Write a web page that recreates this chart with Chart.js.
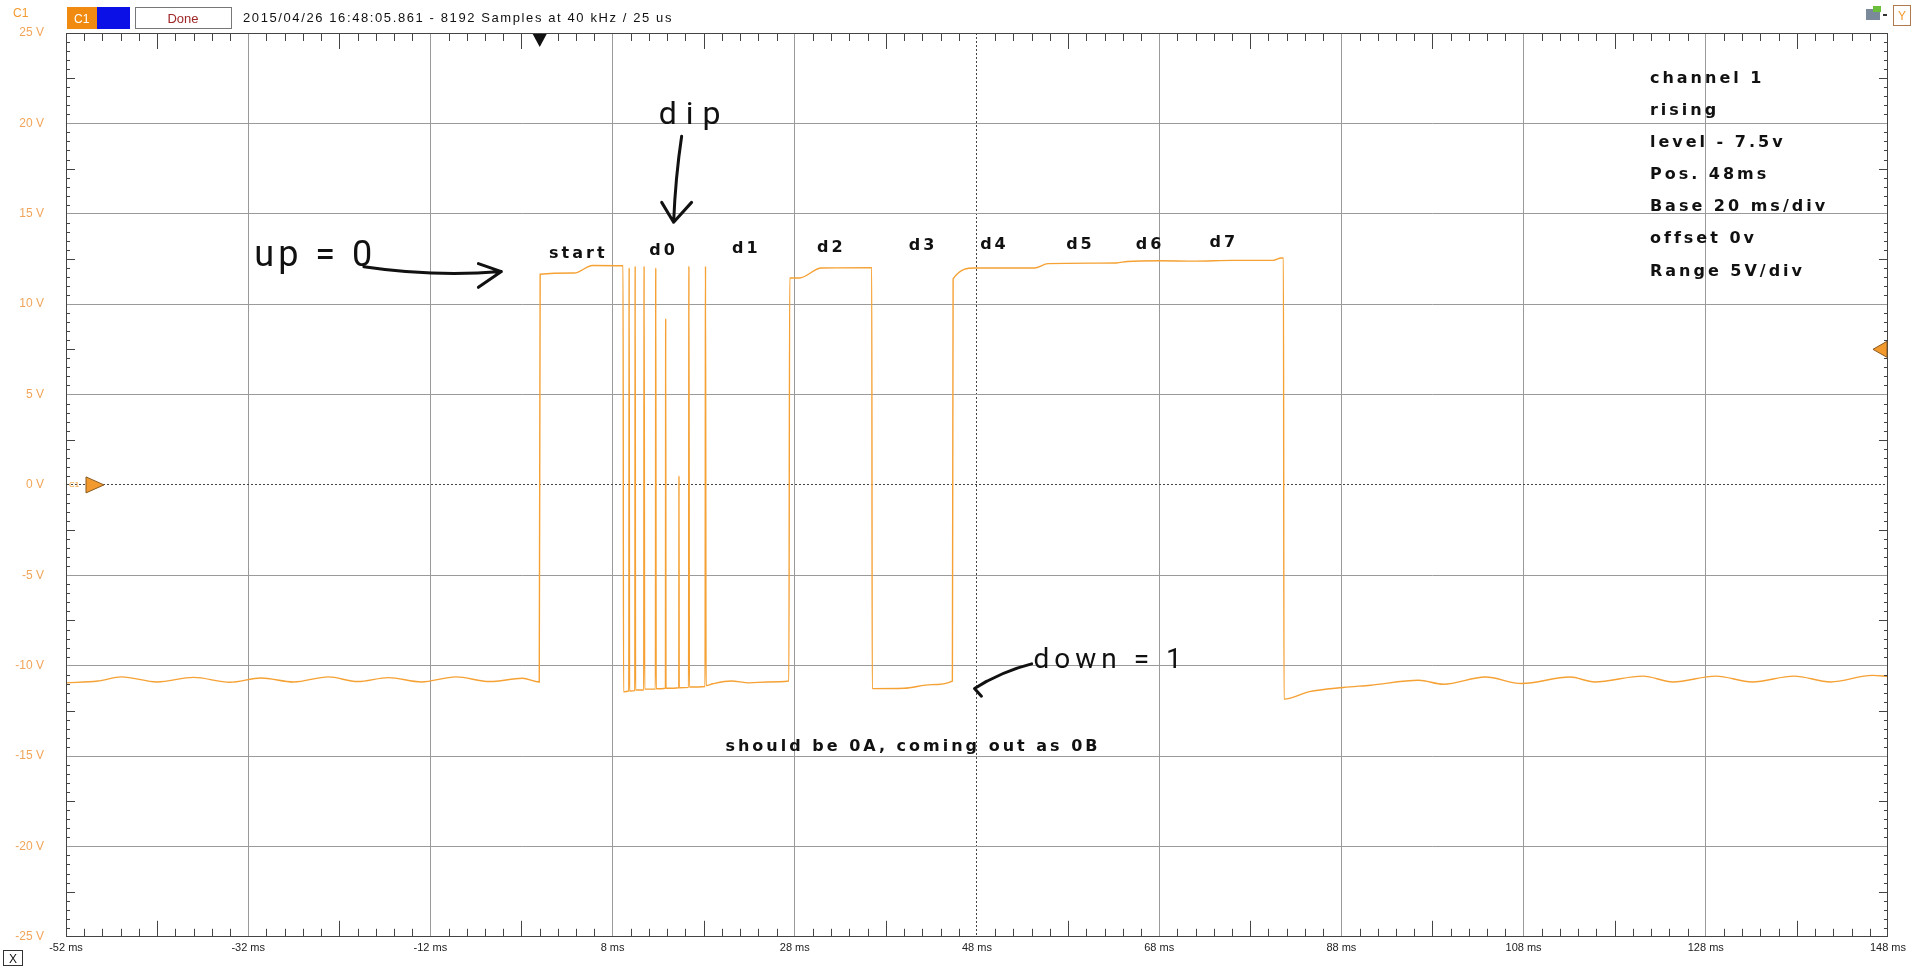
<!DOCTYPE html>
<html>
<head>
<meta charset="utf-8">
<title>C1 capture</title>
<script src="https://cdn.jsdelivr.net/npm/chart.js@4.4.1/dist/chart.umd.min.js"></script>
<style>
  html, body { margin: 0; padding: 0; background: #fff; }
  #wrap { position: relative; width: 1911px; height: 966px; }
</style>
</head>
<body>
<div id="wrap"><canvas id="scope"></canvas></div>
<script>
// channel 1, time in ms vs level in volts
let timeMs = [
  -52, -48.5, -45.9, -42, -38, -34, -30.6, -27, -23.2, -20, -16.6, -13, -9.2, -5.5, -1.9, -0.05,
  0.05, 3.8, 5.8, 9.15,
  9.2, 9.78, 9.82, 9.86, 10.44, 10.48, 10.52, 11.42, 11.46, 11.52, 12.7, 12.74, 12.78,
  13.8, 13.83, 13.86, 15.27, 15.29, 15.31, 16.34, 16.38, 16.43, 18.15, 18.2, 18.26,
  19, 21, 23, 25, 27.35,
  27.44, 28.5, 30.9, 36.45,
  36.5, 40, 43, 45.3,
  45.38, 47.8, 54.3, 55.8, 63.3, 64.5, 68, 72, 76, 80.5, 81.4, 81.64,
  81.7, 84.5, 88.2, 91.2, 96.5, 99.2, 103.8, 107.8, 113.1, 115.8, 121.1, 124.4, 129.1, 133.1, 137.7, 141.7, 146.3, 148
];
let volts = [
  -10.95, -10.85, -10.62, -10.9, -10.65, -10.92, -10.68, -10.9, -10.62, -10.88, -10.66, -10.9, -10.62, -10.88, -10.7, -10.9,
  11.65, 11.72, 12.14, 12.12,
  -11.45, -11.4, 12.0, -11.4, -11.38, 12.1, -11.35, -11.35, 12.1, -11.3, -11.3, 12.0, -11.28,
  -11.25, 9.2, -11.25, -11.22, 0.5, -11.22, -11.2, 12.1, -11.18, -11.15, 12.1, -11.1,
  -11.0, -10.85, -10.95, -10.9, -10.85,
  11.45, 11.45, 12.0, 12.02,
  -11.27, -11.25, -11.05, -10.85,
  11.4, 12.0, 12.0, 12.24, 12.28, 12.36, 12.4, 12.38, 12.42, 12.42, 12.55, 12.55,
  -11.85, -11.44, -11.21, -11.08, -10.81, -11.03, -10.63, -10.99, -10.63, -10.9, -10.58, -10.9, -10.58, -10.9, -10.58, -10.9, -10.54, -10.6
];

let xTickValues = [-52, -32, -12, 8, 28, 48, 68, 88, 108, 128, 148];
let xTickLabels = ['-52 ms', '-32 ms', '-12 ms', '8 ms', '28 ms', '48 ms', '68 ms', '88 ms', '108 ms', '128 ms', '148 ms'];
let yTickValues = [-25, -20, -15, -10, -5, 0, 5, 10, 15, 20, 25];
let yTickLabels = ['-25 V', '-20 V', '-15 V', '-10 V', '-5 V', '0 V', '5 V', '10 V', '15 V', '20 V', '25 V'];

let bitNames = ['start', 'd0', 'd1', 'd2', 'd3', 'd4', 'd5', 'd6', 'd7'];
let settingsText = ['channel 1', 'rising', 'level - 7.5v', 'Pos. 48ms', 'Base 20 ms/div', 'offset 0v', 'Range 5V/div'];
let statusText = '2015/04/26 16:48:05.861 - 8192 Samples at 40 kHz / 25 us';
let noteText = 'should be 0A, coming out as 0B';

let triggerMs = 0;
let triggerLevel = 7.5;
let cursorMs = 48;

// where the notes sit, in ms / volts
let bitPosMs = [1.03, 12.02, 21.12, 30.45, 40.51, 48.35, 57.79, 65.44, 73.53];
let bitPosV = [12.54, 12.73, 12.81, 12.9, 13.0, 13.03, 13.03, 13.03, 13.17];

const orange = '#f39a2e';
const labelFont = "bold 16px 'DejaVu Sans'";
const handFont = "Roboto";

function tri(ctx, pts, fill, stroke) {
  ctx.beginPath();
  ctx.moveTo(pts[0][0], pts[0][1]);
  ctx.lineTo(pts[1][0], pts[1][1]);
  ctx.lineTo(pts[2][0], pts[2][1]);
  ctx.closePath();
  ctx.fillStyle = fill;
  ctx.fill();
  if (stroke) { ctx.strokeStyle = stroke; ctx.lineWidth = 1; ctx.stroke(); }
}

const scopeDecor = {
  id: 'scopeDecor',
  afterDraw(chart) {
    const {ctx, chartArea: a, scales: {x, y}} = chart;
    const px = v => x.getPixelForValue(v);
    const py = v => y.getPixelForValue(v);
    ctx.save();

    // frame
    ctx.strokeStyle = '#444';
    ctx.lineWidth = 1;
    ctx.strokeRect(Math.round(a.left) + 0.5, Math.round(a.top) + 0.5, Math.round(a.width) - 1, Math.round(a.height) - 1);

    // small ticks on the frame
    ctx.beginPath();
    for (let t = -50; t < 148; t += 2) {
      if ((t + 52) % 20 === 0) continue;
      const len = (t + 52) % 20 === 10 ? 16 : 8;
      const xx = Math.round(px(t)) + 0.5;
      ctx.moveTo(xx, a.bottom); ctx.lineTo(xx, a.bottom - len);
      ctx.moveTo(xx, a.top); ctx.lineTo(xx, a.top + len);
    }
    for (let v = -24.5; v < 25; v += 0.5) {
      if (v % 5 === 0) continue;
      const len = Math.abs(v % 5) === 2.5 ? 9 : 4;
      const yy = Math.round(py(v)) + 0.5;
      ctx.moveTo(a.left, yy); ctx.lineTo(a.left + len, yy);
      ctx.moveTo(a.right, yy); ctx.lineTo(a.right - len, yy);
    }
    ctx.stroke();

    // channel / trigger markers
    const y0 = py(0);
    ctx.font = "8px 'Liberation Sans'";
    ctx.fillStyle = orange;
    ctx.textBaseline = 'middle';
    ctx.fillText('C1', a.left + 3, y0);
    tri(ctx, [[a.left + 20, y0 - 8], [a.left + 38, y0], [a.left + 20, y0 + 8]], orange, '#8a5a20');
    const yt = py(triggerLevel);
    tri(ctx, [[a.right - 1, yt - 8], [a.right - 15, yt], [a.right - 1, yt + 8]], orange, '#8a5a20');
    const xt = px(triggerMs);
    tri(ctx, [[xt - 7, a.top + 1], [xt + 7, a.top + 1], [xt, a.top + 14]], '#111');

    // header bar
    ctx.textBaseline = 'alphabetic';
    ctx.fillStyle = orange;
    ctx.font = "12px 'Liberation Sans'";
    ctx.fillText('C1', 13, 17);
    ctx.fillStyle = '#f08a10';
    ctx.fillRect(67, 7, 30, 22);
    ctx.fillStyle = '#0a10e6';
    ctx.fillRect(97, 7, 33, 22);
    ctx.fillStyle = '#fff';
    ctx.font = "12px 'Liberation Sans'";
    ctx.fillText('C1', 74, 23);
    ctx.fillStyle = '#fff';
    ctx.fillRect(135, 7, 96, 22);
    ctx.strokeStyle = '#777';
    ctx.strokeRect(135.5, 7.5, 96, 21);
    ctx.fillStyle = '#a02828';
    ctx.font = "13px 'Liberation Sans Narrow', 'Liberation Sans'";
    ctx.textAlign = 'center';
    ctx.fillText('Done', 183, 23);
    ctx.textAlign = 'left';
    ctx.fillStyle = '#111';
    ctx.font = "13px 'Liberation Sans Narrow', 'Liberation Sans'";
    ctx.letterSpacing = '1.6px';
    ctx.fillText(statusText, 243, 22);
    ctx.letterSpacing = '0px';

    // corner widgets
    ctx.fillStyle = '#7a8a9a';
    ctx.fillRect(1866, 9, 14, 11);
    ctx.fillStyle = '#6cbf3a';
    ctx.fillRect(1873, 6, 8, 6);
    ctx.fillStyle = '#333';
    ctx.fillRect(1883, 14, 4, 2);
    ctx.fillStyle = '#fff';
    ctx.fillRect(1893, 5, 17, 21);
    ctx.strokeStyle = '#b07a50';
    ctx.strokeRect(1893.5, 5.5, 17, 20);
    ctx.fillStyle = orange;
    ctx.font = "12px 'Liberation Sans'";
    ctx.fillText('Y', 1898, 20);
    ctx.strokeStyle = '#333';
    ctx.strokeRect(3.5, 950.5, 19, 15);
    ctx.fillStyle = '#111';
    ctx.fillText('X', 9, 963);

    // typed notes
    ctx.fillStyle = '#111';
    ctx.font = labelFont;
    ctx.letterSpacing = '3px';
    bitNames.forEach((n, i) => ctx.fillText(n, px(bitPosMs[i]), py(bitPosV[i])));
    settingsText.forEach((s, i) => ctx.fillText(s, px(121.87), py(22.24 - i * 1.777)));
    ctx.fillText(noteText, px(20.39), py(-14.72));

    // handwritten notes
    ctx.font = "36px " + handFont;
    ctx.letterSpacing = '4px';
    ctx.fillText('up = 0', px(-31.33), py(12.13));
    ctx.font = "32px " + handFont;
    ctx.letterSpacing = '9px';
    ctx.fillText('dip', px(13.06), py(19.95));
    ctx.font = "28px " + handFont;
    ctx.letterSpacing = '5px';
    ctx.fillText('down = 1', px(54.2), py(-10.13));
    ctx.letterSpacing = '0px';

    ctx.strokeStyle = '#111';
    ctx.lineWidth = 3;
    ctx.lineCap = 'round';
    ctx.lineJoin = 'round';
    ctx.beginPath();
    ctx.moveTo(px(-19.3), py(12.07));
    ctx.quadraticCurveTo(px(-11.76), py(11.5), px(-4.21), py(11.8));
    ctx.moveTo(px(-6.73), py(12.24));
    ctx.lineTo(px(-4.21), py(11.8));
    ctx.lineTo(px(-6.73), py(10.93));
    ctx.moveTo(px(15.58), py(19.29));
    ctx.quadraticCurveTo(px(14.9), py(17), px(14.7), py(14.53));
    ctx.moveTo(px(13.39), py(15.63));
    ctx.lineTo(px(14.7), py(14.53));
    ctx.lineTo(px(16.67), py(15.63));
    ctx.moveTo(px(54.0), py(-9.9));
    ctx.quadraticCurveTo(px(50.8), py(-10.3), px(47.73), py(-11.26));
    ctx.moveTo(px(49.04), py(-10.87));
    ctx.lineTo(px(47.73), py(-11.26));
    ctx.lineTo(px(48.49), py(-11.69));
    ctx.stroke();

    ctx.restore();
  }
};

let scope = new Chart(document.getElementById('scope'), {
  type: 'line',
  data: {
    datasets: [{
      data: timeMs.map((t, i) => ({x: t, y: volts[i]})),
      borderColor: '#f5a134',
      borderWidth: 1.4,
      pointRadius: 0,
      cubicInterpolationMode: 'monotone'
    }]
  },
  options: {
    responsive: true,
    maintainAspectRatio: false,
    animation: false,
    layout: { padding: { top: 33, right: 16, left: 0, bottom: 0 } },
    plugins: {
      legend: { display: false },
      tooltip: { enabled: false }
    },
    scales: {
      x: {
        type: 'linear',
        min: -52,
        max: 148,
        afterBuildTicks: s => { s.ticks = xTickValues.map(v => ({value: v})); },
        afterFit: s => { s.height = 19; },
        ticks: {
          autoSkip: false,
          maxRotation: 0,
          padding: 5,
          color: '#222',
          font: { family: "'Liberation Sans'", size: 11 },
          callback: (v, i) => xTickLabels[i]
        },
        grid: {
          drawTicks: false,
          color: c => (c.tick && c.tick.value === cursorMs) ? '#444' : '#9a9a9a'
        },
        border: {
          color: '#444',
          dash: c => (c.tick && c.tick.value === cursorMs) ? [2, 2] : []
        }
      },
      y: {
        type: 'linear',
        min: -25,
        max: 25,
        afterBuildTicks: s => { s.ticks = yTickValues.map(v => ({value: v})); },
        afterFit: s => { s.width = 66; },
        ticks: {
          padding: 22,
          color: '#f2a55a',
          font: { family: "'Liberation Sans'", size: 12 },
          callback: (v, i) => yTickLabels[i]
        },
        grid: {
          drawTicks: false,
          color: c => (c.tick && c.tick.value === 0) ? '#444' : '#9a9a9a'
        },
        border: {
          color: '#444',
          dash: c => (c.tick && c.tick.value === 0) ? [2, 2] : []
        }
      }
    }
  },
  plugins: [scopeDecor]
});
</script>
</body>
</html>
